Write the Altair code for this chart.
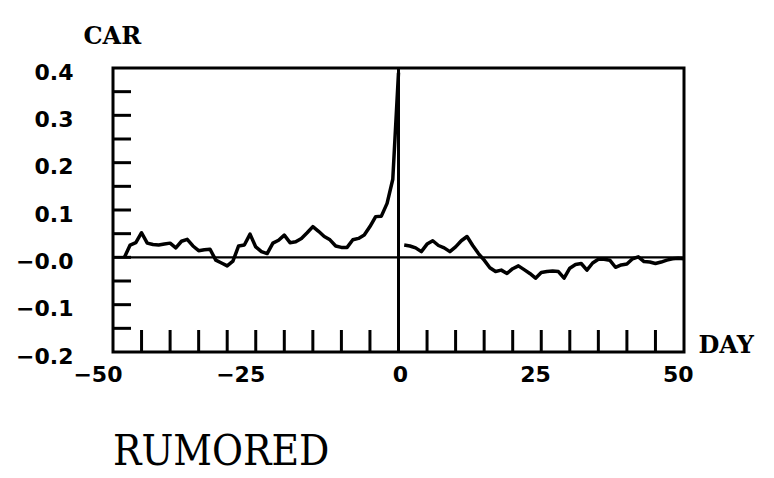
import altair as alt
import pandas as pd

# Cumulative abnormal return, pre-announcement window
left_days = list(range(-48, 1))
left_car = [0.000, 0.026, 0.031, 0.052, 0.030, 0.027, 0.026, 0.028, 0.030, 0.020,
            0.034, 0.038, 0.024, 0.014, 0.016, 0.017, -0.006, -0.012, -0.018, -0.008,
            0.024, 0.026, 0.049, 0.022, 0.012, 0.008, 0.030, 0.036, 0.047, 0.031,
            0.033, 0.040, 0.052, 0.065, 0.055, 0.044, 0.037, 0.024, 0.021, 0.021,
            0.037, 0.040, 0.047, 0.065, 0.086, 0.087, 0.114, 0.165, 0.390]

# Post-announcement window
right_days = list(range(1, 51))
right_car = [0.026, 0.024, 0.020, 0.012, 0.028, 0.035, 0.025, 0.020, 0.012, 0.022,
             0.035, 0.044, 0.025, 0.008, -0.006, -0.022, -0.030, -0.027, -0.034, -0.024,
             -0.018, -0.026, -0.034, -0.044, -0.032, -0.030, -0.029, -0.030, -0.044, -0.023,
             -0.015, -0.013, -0.027, -0.012, -0.004, -0.004, -0.006, -0.021, -0.016, -0.014,
             -0.003, 0.001, -0.009, -0.010, -0.013, -0.010, -0.006, -0.003, -0.002, -0.003]

y_label_values = [-0.2, -0.1, 0.0, 0.1, 0.2, 0.3, 0.4]
x_label_values = [-50, -25, 0, 25, 50]
y_minor_ticks = [-0.15, -0.10, -0.05, 0.0, 0.05, 0.10, 0.15, 0.20, 0.25, 0.30, 0.35]
x_minor_ticks = [-45, -40, -35, -30, -25, -20, -15, -10, -5, 5, 10, 15, 20, 25, 30, 35, 40, 45]
panel_label = "RUMORED"

df = pd.concat([
    pd.DataFrame({"day": left_days, "car": left_car, "seg": "pre"}),
    pd.DataFrame({"day": right_days, "car": right_car, "seg": "post"}),
])

xs = alt.Scale(domain=[-50, 50], nice=False, zero=False)
ys = alt.Scale(domain=[-0.2, 0.4], nice=False, zero=False)

lab_font = "DejaVu Sans"
ttl_font = "DejaVu Serif"

x_axis = alt.Axis(values=x_label_values, domain=False, ticks=False, tickSize=0, grid=False,
                  labelFont=lab_font, labelFontWeight="bold", labelFontSize=22, labelColor="black",
                  labelPadding=12, labelAlign="right", labelOffset=9, labelFlush=False,
                  title="DAY", titleFont=ttl_font, titleFontWeight="bold", titleFontSize=24,
                  titleColor="black", titleAnchor="start", titleAlign="left", titleBaseline="middle",
                  titleX=585, titleY=-7)
y_axis = alt.Axis(values=y_label_values, domain=False, ticks=False, tickSize=0, grid=False,
                  labelFont=lab_font, labelFontWeight="bold", labelFontSize=22, labelColor="black",
                  labelPadding=40, labelOffset=4,
                  labelExpr="datum.value == 0 ? '\u22120.0' : format(datum.value, '.1f')",
                  title="CAR", titleFont=ttl_font, titleFontWeight="bold", titleFontSize=24,
                  titleColor="black", titleAngle=0, titleAlign="left", titleBaseline="middle",
                  titleX=-30, titleY=-32)

line = alt.Chart(df).mark_line(color="black", strokeWidth=3.5, strokeJoin="round").encode(
    x=alt.X("day:Q", scale=xs, axis=x_axis),
    y=alt.Y("car:Q", scale=ys, axis=y_axis),
    detail="seg:N",
)

zero_h = alt.Chart(pd.DataFrame({"v": [0.0]})).mark_rule(color="black", strokeWidth=2.2).encode(
    y=alt.Y("v:Q", scale=ys), x=alt.value(0), x2=alt.value(571))
zero_v = alt.Chart(pd.DataFrame({"v": [0]})).mark_rule(color="black", strokeWidth=3).encode(
    x=alt.X("v:Q", scale=xs), y=alt.value(0), y2=alt.value(284))

yt = alt.Chart(pd.DataFrame({"v": y_minor_ticks})).mark_rule(color="black", strokeWidth=3).encode(
    y=alt.Y("v:Q", scale=ys), x=alt.value(0), x2=alt.value(18))
xt = alt.Chart(pd.DataFrame({"v": x_minor_ticks})).mark_rule(color="black", strokeWidth=3).encode(
    x=alt.X("v:Q", scale=xs), y=alt.value(284), y2=alt.value(262))

txt = alt.Chart(pd.DataFrame({"t": [panel_label]})).mark_text(
    align="left", baseline="alphabetic", font="DejaVu Serif Condensed, DejaVu Serif",
    fontSize=42, color="black").encode(
    x=alt.value(0), y=alt.value(397), text="t:N")

chart = alt.layer(zero_h, zero_v, yt, xt, line, txt).properties(
    width=571, height=284,
    autosize=alt.AutoSizeParams(type="none"),
    padding={"left": 113, "top": 68, "right": 90, "bottom": 126},
    background="white",
).configure_view(stroke="black", strokeWidth=3)

chart.save("out.html", embed_options={"renderer": "svg", "actions": False})
